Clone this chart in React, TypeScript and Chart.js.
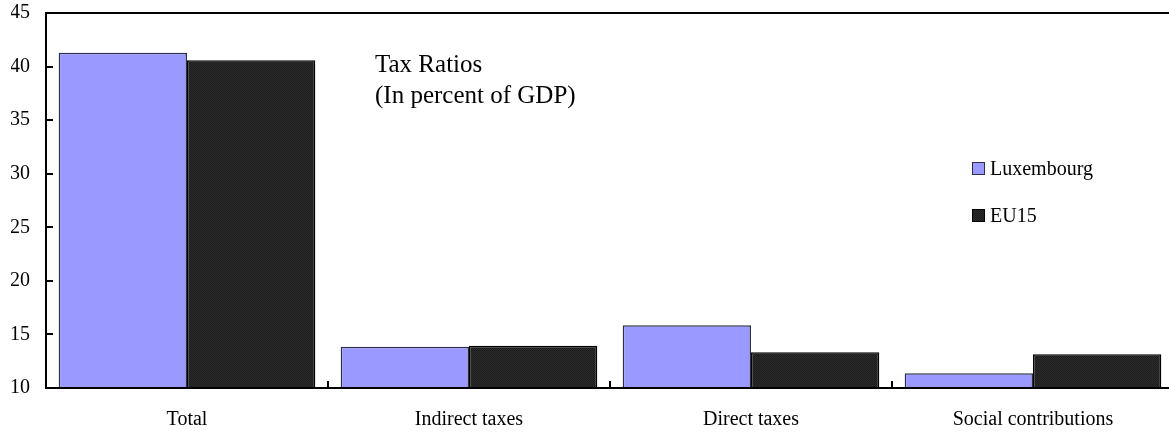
import React, { useEffect, useRef } from "react";
import { Chart, registerables } from "chart.js";

Chart.register(...registerables);

const categories = ["Total", "Indirect taxes", "Direct taxes", "Social contributions"];
const luxembourg = [41.3, 13.85, 15.85, 11.37];
const eu15 = [40.6, 13.95, 13.33, 13.15];
const seriesNames = ["Luxembourg", "EU15"];
const titleLines = ["Tax Ratios", "(In percent of GDP)"];
const yMin = 10;
const yMax = 45;
const yStep = 5;

const FONT = "'Times New Roman', 'Liberation Serif', Tinos, serif";
const LUX_FILL = "#9999FF";
const LUX_BORDER = "#2e2e48";

function makeDarkPattern(): CanvasPattern | string {
  const c = document.createElement("canvas");
  c.width = 2;
  c.height = 2;
  const g = c.getContext("2d");
  if (!g) return "#232323";
  g.fillStyle = "#1c1c1c";
  g.fillRect(0, 0, 2, 2);
  g.fillStyle = "#2c2c2c";
  g.fillRect(1, 0, 1, 1);
  g.fillRect(0, 1, 1, 1);
  const p = g.createPattern(c, "repeat");
  return p || "#232323";
}

export default function App() {
  const ref = useRef<HTMLCanvasElement | null>(null);

  useEffect(() => {
    if (!ref.current) return;
    const euFill = makeDarkPattern();

    const overlay = {
      id: "overlay",
      afterDraw(chart: any) {
        const ctx = chart.ctx as CanvasRenderingContext2D;
        const { left, top, bottom } = chart.chartArea;
        const W = chart.width;
        const xs = chart.scales.x;
        const ys = chart.scales.y;
        ctx.save();
        ctx.strokeStyle = "#000";
        ctx.lineWidth = 2;
        // axis lines
        ctx.beginPath();
        ctx.moveTo(left, top);
        ctx.lineTo(W, top);
        ctx.moveTo(left, top - 1);
        ctx.lineTo(left, bottom + 1);
        ctx.moveTo(left - 1, bottom);
        ctx.lineTo(W, bottom);
        ctx.stroke();
        // y ticks (inward)
        ys.ticks.forEach((t: any) => {
          if (t.value > ys.min && t.value < ys.max) {
            const py = Math.round(ys.getPixelForValue(t.value));
            ctx.beginPath();
            ctx.moveTo(left, py);
            ctx.lineTo(left + 7, py);
            ctx.stroke();
          }
        });
        // x category boundary ticks (inward)
        for (let i = 1; i < categories.length; i++) {
          const px = Math.round((xs.getPixelForValue(i - 1) + xs.getPixelForValue(i)) / 2);
          ctx.beginPath();
          ctx.moveTo(px, bottom);
          ctx.lineTo(px, bottom - 7);
          ctx.stroke();
        }
        // title
        ctx.fillStyle = "#000";
        ctx.textAlign = "left";
        ctx.textBaseline = "alphabetic";
        ctx.font = `25px ${FONT}`;
        ctx.fillText(titleLines[0], left + 329, 72);
        ctx.fillText(titleLines[1], left + 329, 103);
        // legend
        ctx.font = `20px ${FONT}`;
        const fills: (string | CanvasPattern)[] = [LUX_FILL, euFill];
        const borders = [LUX_BORDER, "#000"];
        const boxY = [162, 209];
        seriesNames.forEach((name, i) => {
          ctx.fillStyle = fills[i] as any;
          ctx.fillRect(972, boxY[i], 12, 12);
          ctx.lineWidth = 1;
          ctx.strokeStyle = borders[i];
          ctx.strokeRect(972.5, boxY[i] + 0.5, 12, 12);
          ctx.fillStyle = "#000";
          ctx.fillText(name, 990, boxY[i] + 13);
        });
        ctx.restore();
      },
    };

    const chart = new Chart(ref.current, {
      type: "bar",
      data: {
        labels: categories,
        datasets: [
          {
            label: seriesNames[0],
            data: luxembourg,
            backgroundColor: LUX_FILL,
            borderColor: LUX_BORDER,
            borderWidth: 1.5,
            barPercentage: 1,
            categoryPercentage: 0.91,
          },
          {
            label: seriesNames[1],
            data: eu15,
            backgroundColor: euFill as any,
            borderColor: "#000",
            borderWidth: 1.5,
            barPercentage: 1,
            categoryPercentage: 0.91,
          },
        ],
      },
      options: {
        responsive: false,
        animation: false,
        layout: { padding: { left: 11, right: 2, top: 13, bottom: 0 } },
        plugins: {
          legend: { display: false },
          tooltip: { enabled: false },
          title: { display: false },
        },
        scales: {
          x: {
            grid: { display: false, drawTicks: false },
            border: { display: false },
            ticks: {
              color: "#000",
              font: { family: FONT, size: 20 },
              padding: 20,
              maxRotation: 0,
              autoSkip: false,
            },
            afterFit: (scale: any) => {
              scale.height = 44;
              scale.paddingLeft = 0;
              scale.paddingRight = 0;
            },
          },
          y: {
            min: yMin,
            max: yMax,
            grid: { display: false, drawTicks: false },
            border: { display: false },
            ticks: {
              stepSize: yStep,
              color: "#000",
              font: { family: FONT, size: 20 },
              padding: 16,
            },
            afterFit: (scale: any) => {
              scale.width = 35;
              scale.paddingTop = 0;
              scale.paddingBottom = 0;
            },
          },
        },
      },
      plugins: [overlay],
    });
    return () => chart.destroy();
  }, []);

  return (
    <div style={{ position: "fixed", left: 0, top: 0, width: 1169, height: 432, overflow: "hidden", background: "#fff" }}>
      <canvas ref={ref} width={1176} height={432} style={{ display: "block", width: 1176, height: 432 }} />
    </div>
  );
}
